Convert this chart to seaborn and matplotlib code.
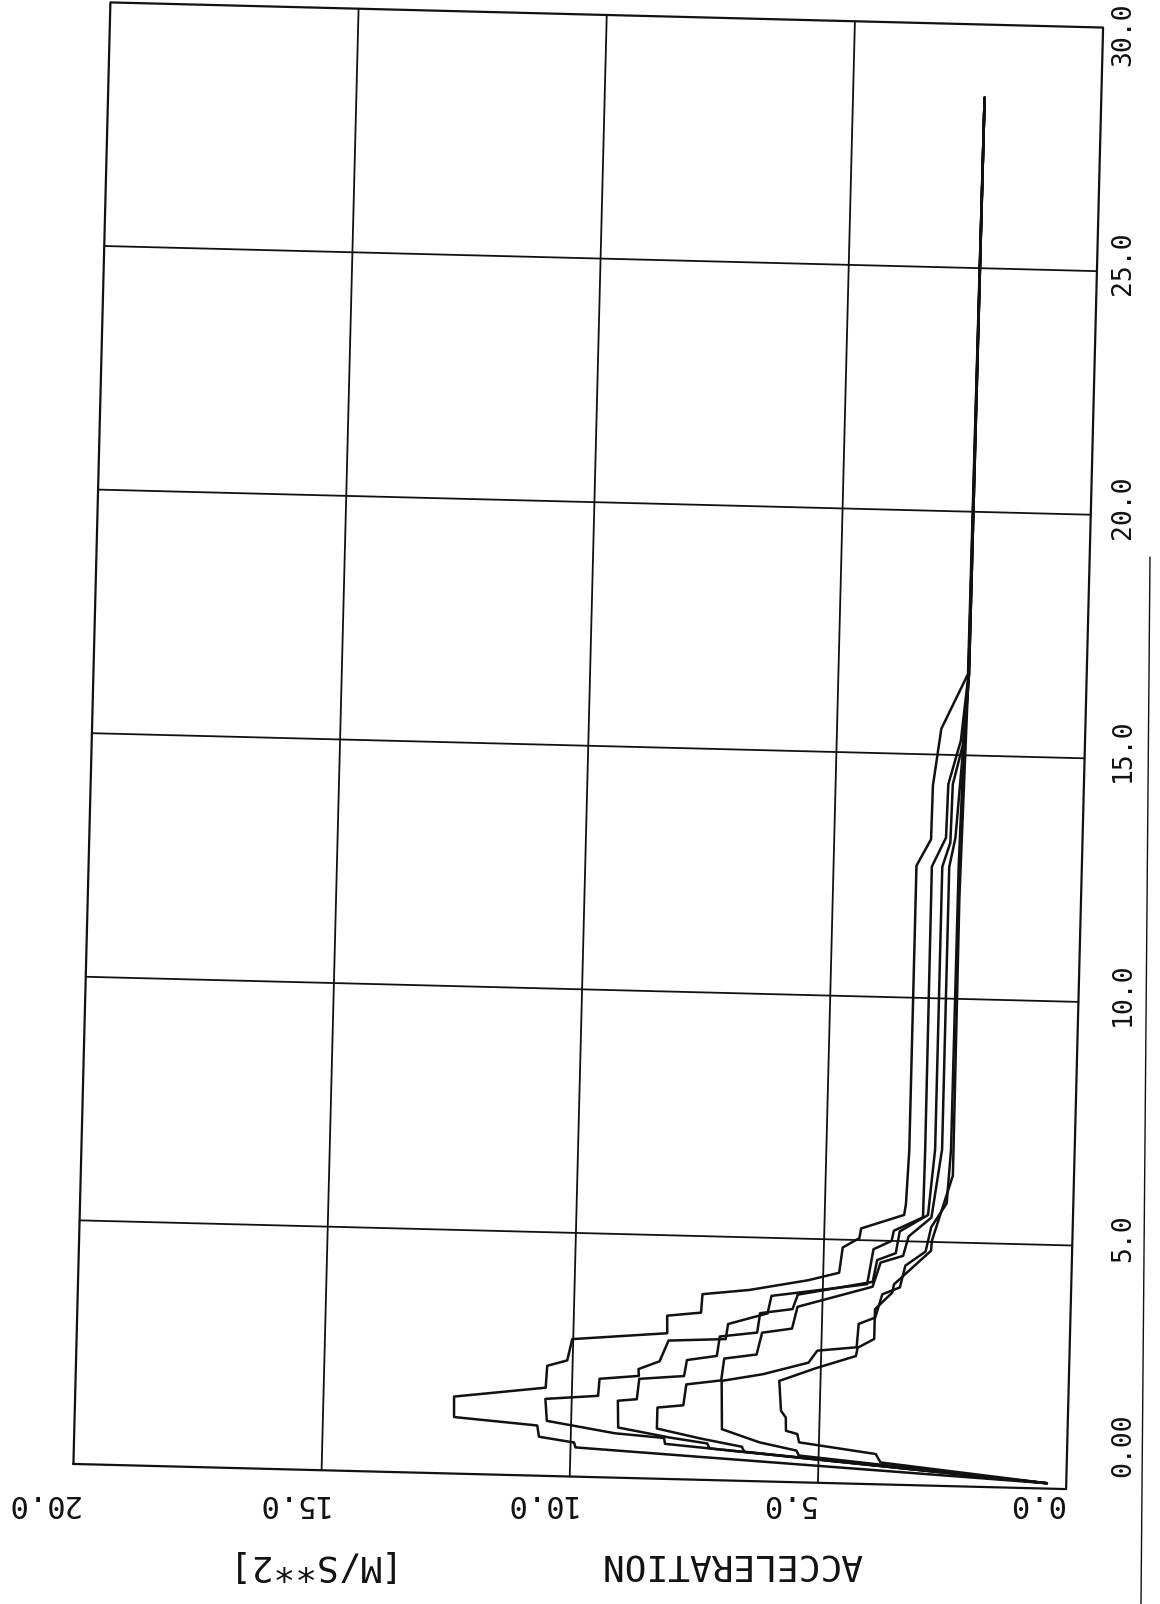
import numpy as np
import pandas as pd
import seaborn as sns
import matplotlib.pyplot as plt
from matplotlib.transforms import Affine2D
from matplotlib.lines import Line2D

# six acceleration histories, time [s] vs acceleration [m/s**2]
time_1 = [0.11, 0.60, 0.70, 0.80, 1.03, 1.16, 1.58, 1.81, 2.26, 2.38, 2.82, 2.99, 3.35, 3.43,
          3.81, 3.92, 4.15, 4.32, 4.84, 5.04, 5.24, 5.54, 5.76, 6.86, 12.71, 13.26, 14.36,
          15.53, 16.67, 28.5]
accel_1 = [0.39, 9.90, 9.93, 10.64, 10.68, 12.36, 12.37, 10.53, 10.51, 10.11, 10.02, 8.11, 8.12,
           7.44, 7.42, 6.48, 5.30, 4.68, 4.62, 4.29, 4.26, 3.40, 3.37, 3.33, 3.33, 3.05, 3.04,
           2.90, 2.39, 2.35]

time_2 = [0.11, 0.72, 0.84, 0.91, 1.13, 1.58, 1.67, 2.02, 2.10, 2.24, 2.41, 2.84, 2.90, 3.21,
          3.45, 3.81, 3.98, 4.10, 4.82, 5.00, 5.21, 5.50, 6.86, 12.70, 13.30, 14.40, 15.30,
          16.67, 28.5]
accel_2 = [0.39, 8.10, 8.12, 9.11, 10.49, 10.53, 9.47, 9.45, 8.66, 8.67, 8.25, 8.08, 6.93, 6.89,
           6.10, 6.03, 4.90, 4.11, 4.00, 3.64, 3.60, 3.02, 3.01, 3.02, 2.75, 2.73, 2.50,
           2.38, 2.35]

time_3 = [0.11, 0.65, 0.75, 0.85, 1.03, 1.58, 1.62, 2.04, 2.12, 2.45, 2.55, 2.95, 3.05, 3.45,
          3.55, 3.85, 4.15, 4.60, 4.75, 5.20, 5.55, 6.90, 12.70, 13.20, 14.40, 15.20, 16.67, 28.5]
accel_3 = [0.39, 7.20, 7.25, 8.00, 9.05, 9.07, 8.69, 8.65, 7.75, 7.70, 7.10, 7.05, 6.30, 6.25,
           5.60, 5.50, 4.00, 3.92, 3.55, 3.48, 2.92, 2.81, 2.81, 2.66, 2.64, 2.46, 2.37, 2.35]

time_4 = [0.11, 0.60, 0.70, 0.85, 1.03, 1.46, 1.52, 1.95, 2.05, 2.50, 2.60, 3.05, 3.15, 3.60,
          3.75, 4.05, 4.55, 4.70, 5.10, 5.50, 6.90, 12.70, 13.30, 15.30, 16.67, 28.5]
accel_4 = [0.39, 6.50, 6.55, 7.40, 8.27, 8.27, 7.75, 7.70, 7.00, 6.95, 6.30, 6.20, 5.60, 5.50,
           5.00, 4.00, 3.85, 3.40, 3.30, 2.85, 2.67, 2.67, 2.56, 2.44, 2.37, 2.35]

time_5 = [0.11, 0.55, 0.65, 0.80, 1.05, 2.04, 2.20, 2.46, 2.71, 2.80, 3.28, 3.42, 3.90, 4.05,
          4.50, 4.80, 5.30, 5.80, 6.90, 12.70, 15.00, 16.67, 28.5]
accel_5 = [0.39, 5.40, 5.45, 6.20, 6.96, 6.99, 6.16, 5.25, 5.08, 4.29, 4.26, 3.93, 3.80, 3.45,
           3.35, 2.95, 2.85, 2.55, 2.49, 2.48, 2.44, 2.37, 2.35]

time_6 = [0.11, 0.45, 0.62, 0.82, 0.99, 1.05, 1.32, 1.46, 2.07, 2.35, 2.62, 2.79, 2.98, 3.59,
          3.94, 4.11, 4.82, 5.02, 6.37, 6.88, 12.08, 16.67, 28.5]
accel_6 = [0.39, 3.75, 3.85, 5.40, 5.44, 5.67, 5.68, 5.78, 5.83, 5.10, 4.30, 4.27, 3.94, 3.94,
           3.60, 3.57, 2.84, 2.83, 2.44, 2.44, 2.45, 2.38, 2.35]

time_ticks = [0, 5, 10, 15, 20, 25, 30]
time_labels = ['0.00', '5.0', '10.0', '15.0', '20.0', '25.0', '30.0']
accel_ticks = [0, 5, 10, 15, 20]
accel_labels = ['0.0', '5.0', '10.0', '15.0', '20.0']

curves = [(time_1, accel_1), (time_2, accel_2), (time_3, accel_3),
          (time_4, accel_4), (time_5, accel_5), (time_6, accel_6)]
df = pd.concat([pd.DataFrame({'run': i, 'time': t, 'accel': a})
                for i, (t, a) in enumerate(curves)], ignore_index=True)

sns.set_style('white')
plt.rcParams['font.family'] = ['DejaVu Sans Mono', 'DejaVu Sans']

W, H = 1160, 1604
fig = plt.figure(figsize=(W / 100, H / 100), dpi=100)
# plot area (unrotated), then the scanned page is tilted a bit
cx, cy, aw, ah = 588.25, H - 745.75, 993, 1462
ax = fig.add_axes([(cx - aw / 2) / W, (cy - ah / 2) / H, aw / W, ah / H])
tilt = Affine2D().rotate_deg_around(cx, cy, -1.45)
rot = ax.transData + tilt

ink = '#111111'
sns.lineplot(data=df, x='accel', y='time', units='run', estimator=None, sort=False,
             color=ink, lw=1.8, transform=rot, clip_on=False, legend=False, ax=ax)

a_lo, a_hi = min(accel_ticks), max(accel_ticks)
t_lo, t_hi = min(time_ticks), max(time_ticks)
ax.set_xlim(a_hi, a_lo)
ax.set_ylim(t_lo, t_hi)
ax.set_autoscale_on(False)
ax.axis('off')

# frame and grid, drawn on the tilted page
ax.plot([a_hi, a_lo, a_lo, a_hi, a_hi], [t_lo, t_lo, t_hi, t_hi, t_lo],
        color=ink, lw=1.6, transform=rot, clip_on=False)
for t in time_ticks[1:-1]:
    ax.plot([a_hi, a_lo], [t, t], color=ink, lw=1.3, transform=rot, clip_on=False)
for a in accel_ticks[1:-1]:
    ax.plot([a, a], [t_lo, t_hi], color=ink, lw=1.3, transform=rot, clip_on=False)

# time tick labels along the right side, reading upward
for t, lab in zip(time_ticks, time_labels):
    if t == t_lo:
        y, va = t, 'bottom'
    elif t == t_hi:
        y, va = t + 0.25, 'top'
    else:
        y, va = t - 0.1, 'center'
    ax.text(-0.77, y, lab, rotation=90, fontsize=19, color=ink,
            ha='center', va=va, clip_on=False)

# acceleration tick labels, upside down under the plot
for a, lab in zip(accel_ticks, accel_labels):
    ax.text(a + 1.0, -0.54, lab, rotation=180, fontsize=22, color=ink,
            ha='center', va='center', clip_on=False)

ax.text(7.1, -1.81, 'ACCELERATION', rotation=180, fontsize=26, color=ink,
        ha='center', va='center', clip_on=False)
ax.text(15.8, -1.81, '[M/S**2]', rotation=180, fontsize=26, color=ink,
        ha='center', va='center', clip_on=False)

# edge of the scanned sheet
fig.add_artist(Line2D([1150 / W, 1141 / W], [1 - 557 / H, 0], color=ink, lw=1.0))

fig.savefig('out.png', dpi=100)
